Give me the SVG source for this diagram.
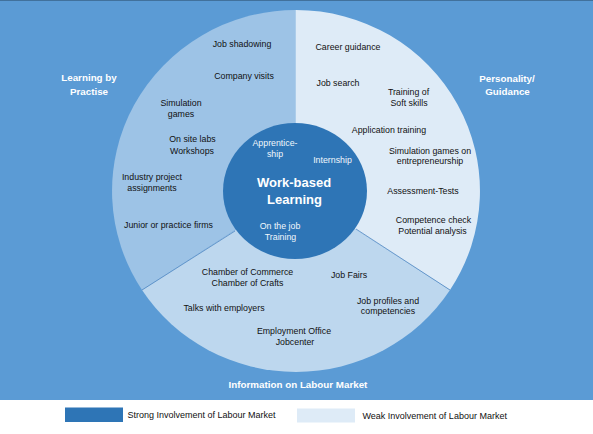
<svg xmlns="http://www.w3.org/2000/svg" width="593" height="434" viewBox="0 0 593 434">
<style>
.lbl{font-family:"Liberation Sans",Arial,sans-serif;font-size:8.8px;fill:#111;text-anchor:middle}
.wl{font-family:"Liberation Sans",Arial,sans-serif;font-size:8.8px;fill:#f2f7fc;text-anchor:middle}
.hd{font-family:"Liberation Sans",Arial,sans-serif;font-size:9.8px;font-weight:bold;fill:#ffffff;text-anchor:middle}
.core{font-family:"Liberation Sans",Arial,sans-serif;font-size:13px;font-weight:bold;fill:#ffffff;text-anchor:middle}
.leg{font-family:"Liberation Sans",Arial,sans-serif;font-size:9px;fill:#111}
.div{stroke:#4f86c2;stroke-width:0.8;fill:none}
</style>
<rect x="0" y="0" width="593" height="434" fill="#ffffff"/>
<g id="background">
<rect x="0" y="0" width="593" height="400" fill="#5b9bd5"/>
<line x1="0" y1="0.5" x2="593" y2="0.5" stroke="#41719c" stroke-width="1"/>
</g>
<g id="sector-learning">
<path d="M295.5,191 L295.5,10 A184,181 0 0 0 142,290 Z" fill="#9dc3e6"/>
<text class="hd" x="89" y="81">Learning by</text>
<text class="hd" x="89" y="95">Practise</text>
<text class="lbl" x="242" y="47">Job shadowing</text>
<text class="lbl" x="244" y="79">Company visits</text>
<text class="lbl" x="181" y="106">Simulation</text>
<text class="lbl" x="181" y="117">games</text>
<text class="lbl" x="192.5" y="142">On site labs</text>
<text class="lbl" x="192" y="153.5">Workshops</text>
<text class="lbl" x="152" y="180">Industry project</text>
<text class="lbl" x="152" y="190.5">assignments</text>
<text class="lbl" x="168.5" y="227.5">Junior or practice firms</text>
</g>
<g id="sector-personality">
<path d="M295.5,191 L295.5,10 A184,181 0 0 1 450,290 Z" fill="#deebf7"/>
<text class="hd" x="507" y="82">Personality/</text>
<text class="hd" x="507.5" y="95">Guidance</text>
<text class="lbl" x="348" y="50">Career guidance</text>
<text class="lbl" x="338" y="86">Job search</text>
<text class="lbl" x="408.5" y="95">Training of</text>
<text class="lbl" x="409" y="105.5">Soft skills</text>
<text class="lbl" x="389" y="132.5">Application training</text>
<text class="lbl" x="430" y="153.5">Simulation games on</text>
<text class="lbl" x="430" y="164">entrepreneurship</text>
<text class="lbl" x="423" y="194">Assessment-Tests</text>
<text class="lbl" x="433.5" y="222.5">Competence check</text>
<text class="lbl" x="432.5" y="234">Potential analysis</text>
</g>
<g id="sector-information">
<path d="M296,191 L142,290 A184,181 0 0 0 450,290 Z" fill="#bdd7ee"/>
<text class="hd" x="298" y="387.5">Information on Labour Market</text>
<text class="lbl" x="247.5" y="275">Chamber of Commerce</text>
<text class="lbl" x="247.5" y="285.5">Chamber of Crafts</text>
<text class="lbl" x="349" y="277.5">Job Fairs</text>
<text class="lbl" x="224" y="310.5">Talks with employers</text>
<text class="lbl" x="388" y="303.5">Job profiles and</text>
<text class="lbl" x="388" y="314">competencies</text>
<text class="lbl" x="294" y="333.5">Employment Office</text>
<text class="lbl" x="295" y="344.5">Jobcenter</text>
</g>
<g id="connectors">
<line class="div" x1="142" y1="290" x2="235" y2="231"/>
<line class="div" x1="450" y1="290" x2="356" y2="229"/>
</g>
<g id="core">
<ellipse cx="295" cy="191" rx="72" ry="68" fill="#2e75b6"/>
<text class="core" x="294" y="186.5">Work-based</text>
<text class="core" x="294.5" y="204">Learning</text>
<text class="wl" x="275" y="145.5">Apprentice-</text>
<text class="wl" x="275" y="156.5">ship</text>
<text class="wl" x="332.5" y="162.5">Internship</text>
<text class="wl" x="280" y="229">On the job</text>
<text class="wl" x="280.5" y="239.5">Training</text>
</g>
<g id="legend">
<rect x="65" y="407.5" width="58" height="14.5" fill="#2e75b6"/>
<text class="leg" x="127.5" y="418">Strong Involvement of Labour Market</text>
<rect x="297" y="408.5" width="58" height="14" fill="#deebf7"/>
<text class="leg" x="362.5" y="418.5">Weak Involvement of Labour Market</text>
</g>
</svg>
